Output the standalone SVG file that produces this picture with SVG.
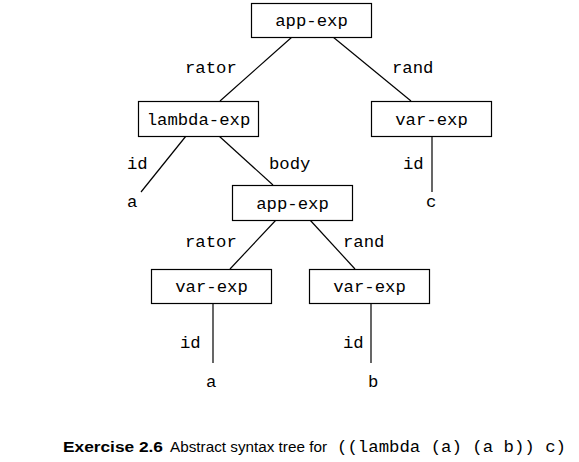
<svg xmlns="http://www.w3.org/2000/svg" width="579" height="462" viewBox="0 0 579 462">
<style>
.box{fill:#fff;stroke:#000;stroke-width:1.2}
.nt{font-family:"Liberation Mono","Courier New",monospace;font-size:17.3px;fill:#000;text-anchor:middle}
.lb{font-family:"Liberation Mono","Courier New",monospace;font-size:17.3px;fill:#000}
.ln{stroke:#000;stroke-width:1.2;fill:none}
.cap{font-family:"Liberation Sans",Arial,sans-serif;font-size:14px;fill:#000}
</style>
<rect width="579" height="462" fill="#fff"/>
<g id="connectors">
<line class="ln" x1="292" y1="37" x2="220" y2="101"/>
<line class="ln" x1="333" y1="37" x2="411" y2="101"/>
<line class="ln" x1="186" y1="136" x2="141" y2="192"/>
<line class="ln" x1="219" y1="136" x2="273" y2="185"/>
<line class="ln" x1="432" y1="136" x2="432" y2="192"/>
<line class="ln" x1="276" y1="220" x2="230" y2="269"/>
<line class="ln" x1="310" y1="220" x2="355" y2="269"/>
<line class="ln" x1="213" y1="303" x2="213" y2="363"/>
<line class="ln" x1="371" y1="303" x2="371" y2="363"/>
<text class="lb" x="185" y="72.5">rator</text>
<text class="lb" x="392" y="72.5">rand</text>
<text class="lb" x="127" y="169">id</text>
<text class="lb" x="269" y="169">body</text>
<text class="lb" x="403" y="169">id</text>
<text class="lb" x="185" y="247">rator</text>
<text class="lb" x="343" y="247">rand</text>
<text class="lb" x="180" y="348">id</text>
<text class="lb" x="343" y="348">id</text>
</g>
<g id="n1"><rect class="box" x="251.5" y="3.5" width="120" height="34"/><text class="nt" x="311.5" y="26">app-exp</text></g>
<g id="n2"><rect class="box" x="138.5" y="101.5" width="120" height="35"/><text class="nt" x="198.5" y="124.5">lambda-exp</text></g>
<g id="n3"><rect class="box" x="371.5" y="101.5" width="120" height="35"/><text class="nt" x="431.5" y="124.5">var-exp</text></g>
<g id="n4"><text class="lb" x="127" y="206.5">a</text></g>
<g id="n5"><rect class="box" x="232.5" y="185.5" width="120" height="35"/><text class="nt" x="292.5" y="208.5">app-exp</text></g>
<g id="n6"><text class="lb" x="426" y="206.5">c</text></g>
<g id="n7"><rect class="box" x="151.5" y="269.5" width="120" height="34"/><text class="nt" x="211.5" y="292">var-exp</text></g>
<g id="n8"><rect class="box" x="309.5" y="269.5" width="120" height="34"/><text class="nt" x="369.5" y="292">var-exp</text></g>
<g id="n9"><text class="lb" x="206" y="386.5">a</text></g>
<g id="n10"><text class="lb" x="368" y="386.5">b</text></g>
<g id="caption">
<text class="cap" x="63" y="452" font-weight="bold" textLength="100" lengthAdjust="spacingAndGlyphs">Exercise 2.6</text>
<text class="cap" x="170" y="452" textLength="157" lengthAdjust="spacingAndGlyphs">Abstract syntax tree for</text>
<text class="lb" x="337" y="452" font-size="16px" xml:space="preserve" textLength="229" lengthAdjust="spacingAndGlyphs">((lambda (a) (a b)) c)</text>
</g>
</svg>
